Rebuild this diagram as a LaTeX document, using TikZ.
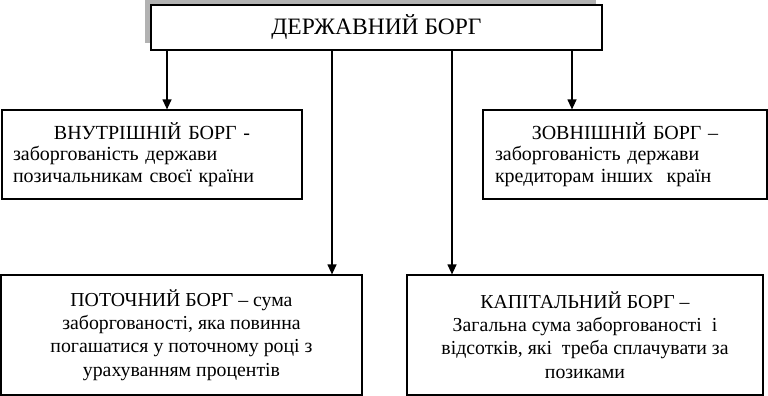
\documentclass[tikz,border=0pt]{standalone}
\usepackage{fontspec}
\setmainfont{Liberation Serif}
\usetikzlibrary{arrows.meta}
\begin{document}
\begin{tikzpicture}[x=1pt,y=-1pt,
  box/.style={draw=black, line width=1.2pt, fill=white, rectangle, inner sep=0pt},
  midbox/.style={box, align=left, font=\fontsize{20}{21.8}\selectfont},
  lowbox/.style={box, align=center, font=\fontsize{19.8}{23.3}\selectfont},
  arr/.style={line width=1.2pt, -{Triangle[length=10pt,width=9pt]}}]
\useasboundingbox (0,0) rectangle (768,396);
% shadow of the top box
\fill[gray!60] (145,-2) rectangle (596,43);
\node[box, minimum width=451pt, minimum height=45pt, font=\fontsize{23.5}{26}\selectfont]
  (top) at (376.5,27.5) {ДЕРЖАВНИЙ БОРГ};
\node[midbox, inner xsep=11pt, text width=278pt, minimum height=89pt] (L1) at (152,154.5)
  {\makebox[278pt][c]{ВНУТРІШНІЙ БОРГ -}\\заборгованість держави\\позичальникам своєї країни};
\node[midbox, inner xsep=12pt, text width=260pt, minimum height=89pt] (R1) at (625,154.5)
  {\makebox[260pt][c]{ЗОВНІШНІЙ БОРГ –}\\заборгованість держави\\кредиторам інших\ \ країн};
\node[lowbox, minimum width=361pt, minimum height=120pt] (L2) at (181.5,335)
  {ПОТОЧНИЙ БОРГ – сума\\заборгованості, яка повинна\\погашатися у поточному році з\\урахуванням процентів};
\node[lowbox, minimum width=356pt, minimum height=120pt] (R2) at (585,335)
  {КАПІТАЛЬНИЙ БОРГ –\\Загальна сума заборгованості\ \ і\\відсотків, які\ \ треба сплачувати за\\позиками};
\coordinate (xa) at (167,0);
\coordinate (xb) at (332,0);
\coordinate (xc) at (452,0);
\coordinate (xd) at (572,0);
\draw[arr] (top.south -| xa) -- (L1.north -| xa);
\draw[arr] (top.south -| xb) -- (L2.north -| xb);
\draw[arr] (top.south -| xc) -- (R2.north -| xc);
\draw[arr] (top.south -| xd) -- (R1.north -| xd);
\end{tikzpicture}
\end{document}
